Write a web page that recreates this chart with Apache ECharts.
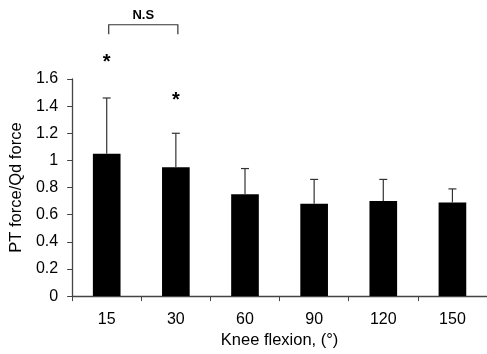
<!DOCTYPE html>
<html>
<head>
<meta charset="utf-8">
<script src="https://cdn.jsdelivr.net/npm/echarts@6/dist/echarts.min.js"></script>
<style>
  html, body { margin: 0; padding: 0; background: #fff; }
  #container { width: 487px; height: 354px; }
</style>
</head>
<body>
<div id="container"></div>
<script>
let angles = ['15', '30', '60', '90', '120', '150'];
let means = [1.05, 0.95, 0.75, 0.68, 0.70, 0.69];
let upperErr = [1.46, 1.20, 0.94, 0.86, 0.86, 0.79];
let stars = [['15', 1.72], ['30', 1.44]];
let bracket = { from: '15', to: '30', top: 2.0, foot: 1.93, label: 'N.S', labelAt: 2.07 };

var myChart = echarts.init(document.getElementById('container'));

let font = 'Liberation Sans, Arial, sans-serif';

let option = {
  animation: false,
  grid: {
    left: 71,
    top: 79,
    bottom: 56,
    width: 422,
  },
  xAxis: {
    type: 'category',
    data: angles,
    name: 'Knee flexion, (°)',
    nameLocation: 'middle',
    nameGap: 35,
    nameTextStyle: { color: '#000', fontSize: 16.5, fontFamily: font },
    axisLine: { lineStyle: { color: '#444', width: 1.3 } },
    axisTick: { show: true, length: 5, lineStyle: { color: '#444' } },
    axisLabel: { color: '#000', fontSize: 16, fontFamily: font, margin: 15 },
  },
  yAxis: {
    type: 'value',
    min: 0,
    max: 1.6,
    interval: 0.2,
    name: 'PT force/Qd force',
    nameLocation: 'middle',
    nameGap: 46,
    nameTextStyle: { color: '#000', fontSize: 16.5, fontFamily: font },
    axisLine: { show: true, lineStyle: { color: '#444', width: 1.3 } },
    axisTick: { show: true, length: 5, lineStyle: { color: '#444' } },
    splitLine: { show: false },
    axisLabel: {
      color: '#000',
      fontSize: 16,
      fontFamily: font,
      margin: 14,
      formatter: (v) => String(Math.round(v * 10) / 10),
    },
  },
  series: [
    {
      type: 'bar',
      data: means,
      barWidth: '40%',
      itemStyle: { color: '#000' },
    },
    {
      // upper error bars
      type: 'custom',
      data: angles.map((a, i) => [i, means[i], upperErr[i]]),
      renderItem: function (params, api) {
        let lo = api.coord([api.value(0), api.value(1)]);
        let hi = api.coord([api.value(0), api.value(2)]);
        let w = 4;
        let style = { stroke: '#333', lineWidth: 1.2 };
        return {
          type: 'group',
          children: [
            { type: 'line', shape: { x1: lo[0], y1: lo[1], x2: hi[0], y2: hi[1] }, style: style },
            { type: 'line', shape: { x1: hi[0] - w, y1: hi[1], x2: hi[0] + w, y2: hi[1] }, style: style },
          ],
        };
      },
      z: 3,
    },
    {
      // significance stars
      type: 'custom',
      clip: false,
      data: stars,
      renderItem: function (params, api) {
        let p = api.coord([api.value(0), api.value(1)]);
        return {
          type: 'text',
          x: p[0],
          y: p[1],
          style: {
            text: '*',
            fill: '#000',
            font: 'bold 20px ' + font,
            align: 'center',
            verticalAlign: 'middle',
          },
        };
      },
    },
    {
      // N.S bracket
      type: 'custom',
      clip: false,
      data: [[bracket.from, bracket.to]],
      renderItem: function (params, api) {
        let a = api.coord([bracket.from, bracket.top]);
        let b = api.coord([bracket.to, bracket.top]);
        let fa = api.coord([bracket.from, bracket.foot]);
        let t = api.coord([bracket.from, bracket.labelAt]);
        let style = { stroke: '#333', lineWidth: 1.2, fill: null };
        return {
          type: 'group',
          children: [
            {
              type: 'polyline',
              shape: { points: [[a[0] + 2, fa[1]], [a[0] + 2, a[1]], [b[0] + 2, a[1]], [b[0] + 2, fa[1]]] },
              style: style,
            },
            {
              type: 'text',
              x: (a[0] + b[0]) / 2 + 2,
              y: t[1],
              style: {
                text: bracket.label,
                fill: '#000',
                font: 'bold 13px ' + font,
                align: 'center',
                verticalAlign: 'middle',
              },
            },
          ],
        };
      },
    },
  ],
};

if (option && typeof option === 'object') {
  myChart.setOption(option);
}
</script>
</body>
</html>
